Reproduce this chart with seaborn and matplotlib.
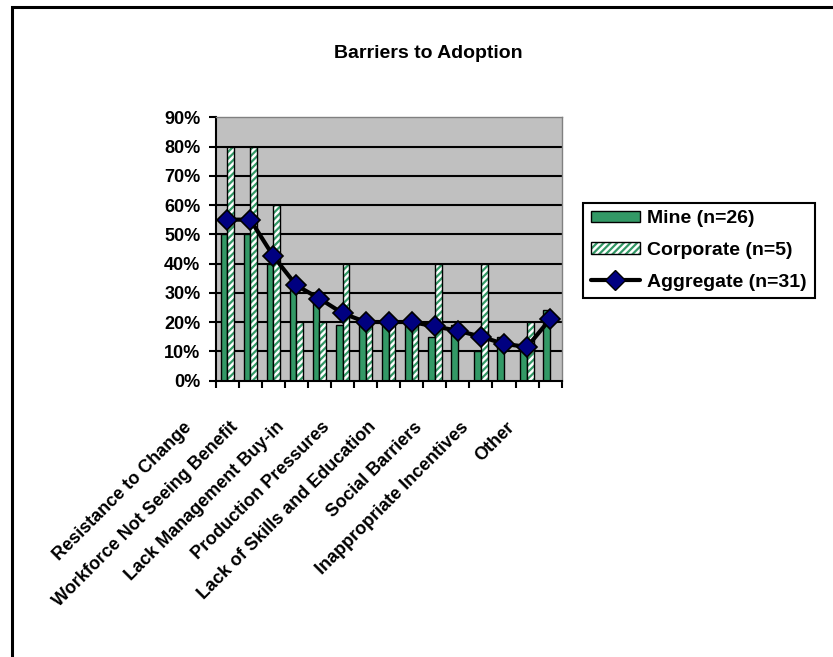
import matplotlib
matplotlib.use("Agg")
import matplotlib.pyplot as plt
import matplotlib.transforms as mtransforms
from matplotlib.patches import Rectangle, Patch
from matplotlib.lines import Line2D
from matplotlib.legend_handler import HandlerTuple
from matplotlib.ticker import PercentFormatter
import numpy as np
import pandas as pd
import seaborn as sns

# ---- data (percent of respondents) ----
categories = list(range(15))
tick_labels = [
    "Resistance to Change", "",
    "Workforce Not Seeing Benefit", "",
    "Lack Management Buy-in", "",
    "Production Pressures", "",
    "Lack of Skills and Education", "",
    "Social Barriers", "",
    "Inappropriate Incentives", "",
    "Other",
]
mine = [50, 50, 40, 31, 27, 19, 19, 19, 19, 15, 19, 10, 15, 10, 24]
corporate = [80, 80, 60, 20, 20, 40, 20, 20, 20, 40, 0, 40, 0, 20, 0]
aggregate = [55, 55, 42.5, 32.5, 28, 23, 20, 20, 20, 18.5, 17, 15, 12.5, 11.5, 21]
series_names = ["Mine (n=26)", "Corporate (n=5)", "Aggregate (n=31)"]
y_ticks = list(range(0, 91, 10))
title = "Barriers to Adoption"

GREEN = "#339966"
NAVY = "#000080"
PLOT_BG = "#C0C0C0"

sns.set_style("white")
plt.rcParams["font.family"] = ["Liberation Sans", "DejaVu Sans"]
plt.rcParams["hatch.linewidth"] = 1.6
for key in ("text.color", "axes.labelcolor", "xtick.color", "ytick.color"):
    plt.rcParams[key] = "black"

W, H, DPI = 833, 657, 100
fig = plt.figure(figsize=(W / DPI, H / DPI), dpi=DPI)
ax = fig.add_axes([215.7 / W, 1 - 380.5 / H, 346 / W, 263.2 / H])
ax.set_facecolor(PLOT_BG)

df = pd.DataFrame({
    "pos": categories * 2,
    "value": mine + corporate,
    "series": [series_names[0]] * len(mine) + [series_names[1]] * len(corporate),
})

sns.barplot(data=df, x="pos", y="value", hue="series", order=categories,
            hue_order=series_names[:2], palette=[GREEN, "white"],
            width=0.58, saturation=1, edgecolor="black", linewidth=1,
            legend=False, ax=ax)

# hatched corporate bars with a separate black outline
for bar in ax.containers[1]:
    bar.set_facecolor("white")
    bar.set_edgecolor(GREEN)
    bar.set_hatch("/////")
    bar.set_linewidth(0)
    if bar.get_height() > 0:
        ax.add_patch(Rectangle(bar.get_xy(), bar.get_width(), bar.get_height(),
                               fill=False, edgecolor="black", linewidth=1,
                               zorder=bar.get_zorder() + 0.1))

sns.lineplot(x=categories, y=aggregate, ax=ax, color="black", linewidth=3,
             marker="D", markersize=10, markerfacecolor=NAVY,
             markeredgecolor="black", markeredgewidth=1.2, zorder=5,
             legend=False)

# horizontal gridlines inside the plot area
for v in y_ticks[1:-1]:
    ax.axhline(v, color="black", linewidth=1.5, zorder=0.8)

ax.set_xlim(-0.5, len(categories) - 0.5)
ax.set_ylim(0, 90)
ax.set_yticks(y_ticks)
ax.yaxis.set_major_formatter(PercentFormatter(100, decimals=0))
ax.set_xticks(np.arange(-0.5, len(categories), 1))
ax.set_xticklabels([])
ax.set_xlabel("")
ax.set_ylabel("")
ax.tick_params(axis="both", direction="out", length=5, width=1.5,
               color="black", left=True, bottom=True)
ax.tick_params(axis="y", pad=6, labelsize=13, labelcolor="black")
for lab in ax.get_yticklabels():
    lab.set_fontweight("bold")

for side in ("left", "bottom"):
    ax.spines[side].set_color("black")
    ax.spines[side].set_linewidth(1.5)
for side in ("top", "right"):
    ax.spines[side].set_color("#808080")
    ax.spines[side].set_linewidth(1)

# rotated category labels below the axis
offset = mtransforms.ScaledTranslation(-38 / DPI, -44 / DPI, fig.dpi_scale_trans)
label_tr = ax.get_xaxis_transform() + offset
for pos, text in zip(categories, tick_labels):
    if text:
        ax.text(pos, 0, text, transform=label_tr, rotation=45,
                rotation_mode="anchor", ha="right", va="center",
                fontsize=13, fontweight="bold", color="black", clip_on=False)

fig.text(428.5 / W, 1 - 53 / H, title, ha="center", va="center",
         fontsize=14, fontweight="bold", color="black")

handles = [
    Patch(facecolor=GREEN, edgecolor="black", linewidth=1),
    (Patch(facecolor="white", edgecolor=GREEN, hatch="/////", linewidth=0),
     Patch(fill=False, edgecolor="black", linewidth=1)),
    Line2D([], [], color="black", linewidth=3, marker="D", markersize=10,
           markerfacecolor=NAVY, markeredgecolor="black"),
]
leg = fig.legend(handles, series_names, loc="upper left",
                 bbox_to_anchor=(583.3 / W, 1 - 202.7 / H), borderaxespad=0,
                 frameon=True, fancybox=False, framealpha=1, edgecolor="black",
                 borderpad=0.4, labelspacing=0.75, handlelength=2.5,
                 handleheight=0.55, handletextpad=0.4, numpoints=1,
                 handler_map={tuple: HandlerTuple(ndivide=1)},
                 prop={"weight": "bold", "size": 14})
leg.get_frame().set_linewidth(1.5)
for t in leg.get_texts():
    t.set_color("black")

# outer chart border
fig.add_artist(Rectangle((11.5 / W, -0.1), 2, 1 - 6.5 / H + 0.1,
                         transform=fig.transFigure, fill=False,
                         edgecolor="black", linewidth=2.2))

fig.savefig("out.png", dpi=DPI)
